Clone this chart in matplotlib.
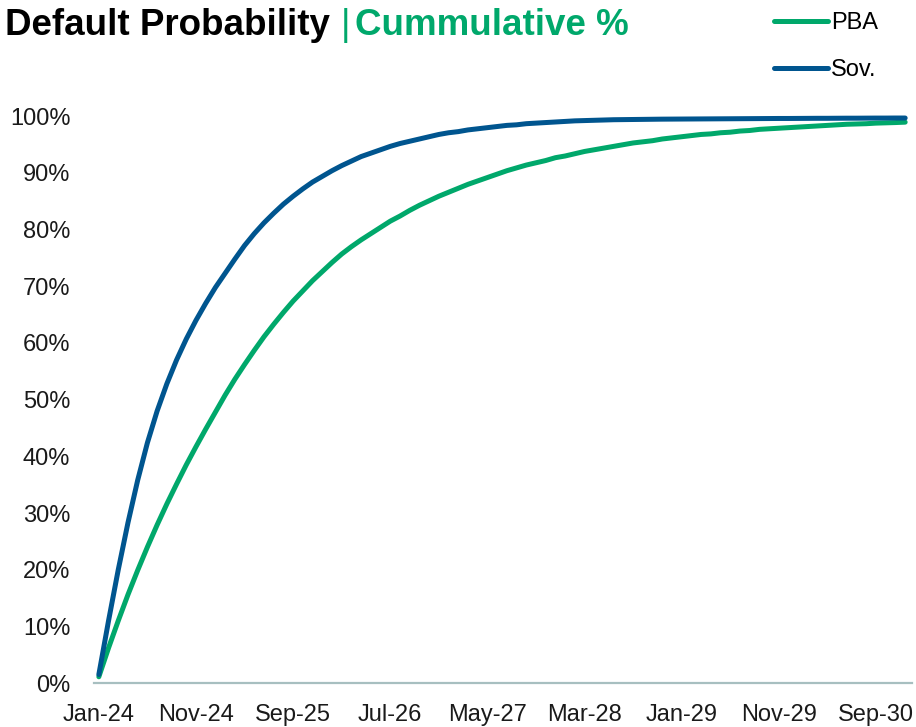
import numpy as np
import pandas as pd
import matplotlib.pyplot as plt
from matplotlib.ticker import FuncFormatter

plt.rcParams['font.family'] = ['Liberation Sans', 'DejaVu Sans']

# monthly points Jan-24 .. Dec-30
months = pd.date_range('2024-01-01', '2030-12-01', freq='MS').strftime('%b-%y').tolist()
tick_labels = ['Jan-24', 'Nov-24', 'Sep-25', 'Jul-26', 'May-27',
               'Mar-28', 'Jan-29', 'Nov-29', 'Sep-30']

# cumulative default probability, %
pba = [1.1, 6.2, 11.0, 15.6, 19.9, 24.0, 27.9, 31.6, 35.1, 38.5, 41.7, 44.8, 47.8,
       50.8, 53.6, 56.2, 58.7, 61.1, 63.3, 65.4, 67.4, 69.2, 71.0, 72.6, 74.2, 75.7,
       77.0, 78.2, 79.3, 80.4, 81.5, 82.4, 83.4, 84.3, 85.1, 85.9, 86.6, 87.3,
       88.0, 88.6, 89.2, 89.8, 90.4, 90.9, 91.4, 91.8, 92.2, 92.7, 93.0, 93.4,
       93.8, 94.1, 94.4, 94.7, 95.0, 95.3, 95.5, 95.7, 96.0, 96.2, 96.4, 96.6,
       96.8, 96.9, 97.1, 97.2, 97.4, 97.5, 97.7, 97.8, 97.9, 98.0, 98.1, 98.2,
       98.3, 98.4, 98.5, 98.6, 98.65, 98.7, 98.8, 98.85, 98.9, 98.97]
sov = [1.5, 11.0, 20.0, 28.3, 35.8, 42.4, 48.0, 52.8, 57.0, 60.7, 64.0, 67.0, 69.8,
       72.3, 74.8, 77.2, 79.3, 81.2, 82.9, 84.5, 85.9, 87.2, 88.4, 89.4, 90.4, 91.3,
       92.1, 92.9, 93.5, 94.1, 94.7, 95.2, 95.6, 96.0, 96.4, 96.8, 97.1, 97.3,
       97.6, 97.8, 98.0, 98.2, 98.4, 98.5, 98.7, 98.8, 98.9, 99.0, 99.1, 99.2,
       99.25, 99.3, 99.35, 99.4, 99.42, 99.44, 99.46, 99.48, 99.50, 99.51, 99.52,
       99.53, 99.54, 99.55, 99.56, 99.57, 99.58, 99.59, 99.60, 99.61, 99.62, 99.62,
       99.63, 99.64, 99.65, 99.65, 99.66, 99.67, 99.67, 99.68, 99.69, 99.69,
       99.70, 99.70]

green = '#00A86B'
blue = '#00558F'

fig = plt.figure(figsize=(9.16, 7.27), dpi=100)
ax = fig.add_axes([0.1026, 0.0605, 0.893, 0.7795])

x = np.arange(len(months))
ax.plot(x, pba, color=green, lw=3.6, label='PBA', solid_capstyle='round', clip_on=False)
ax.plot(x, sov, color=blue, lw=3.6, label='Sov.', solid_capstyle='round', clip_on=False)

ax.set_xlim(-0.5, 83.7)
ax.set_ylim(0, 100)
ax.set_yticks(range(0, 101, 10))
ax.yaxis.set_major_formatter(FuncFormatter(lambda v, p: f'{v:.0f}%'))
ax.set_xticks([months.index(t) for t in tick_labels])
ax.set_xticklabels(tick_labels)
ax.tick_params(axis='both', length=0, labelsize=17, colors='#1a1a1a')
ax.tick_params(axis='y', pad=17)
ax.tick_params(axis='x', pad=15)

for s in ['top', 'right', 'left']:
    ax.spines[s].set_visible(False)
ax.spines['bottom'].set_color('#A7BFC0')
ax.spines['bottom'].set_linewidth(1.6)

# title
ty = (727 - 35) / 727
fig.text(5 / 916, ty, 'Default Probability', fontsize=26.5, fontweight='bold',
         color='black', va='baseline')
fig.text(341 / 916, ty, '|', fontsize=26.5, color=green, va='baseline')
fig.text(355 / 916, ty, 'Cummulative %', fontsize=26.5, fontweight='bold',
         color=green, va='baseline')

fig.legend(loc='upper left', bbox_to_anchor=(774 / 916, (727 - 12) / 727),
           frameon=False, fontsize=17, handlelength=2.3, handletextpad=0.1,
           labelspacing=1.05, borderpad=0, borderaxespad=0)

fig.savefig('out.png', dpi=100)
